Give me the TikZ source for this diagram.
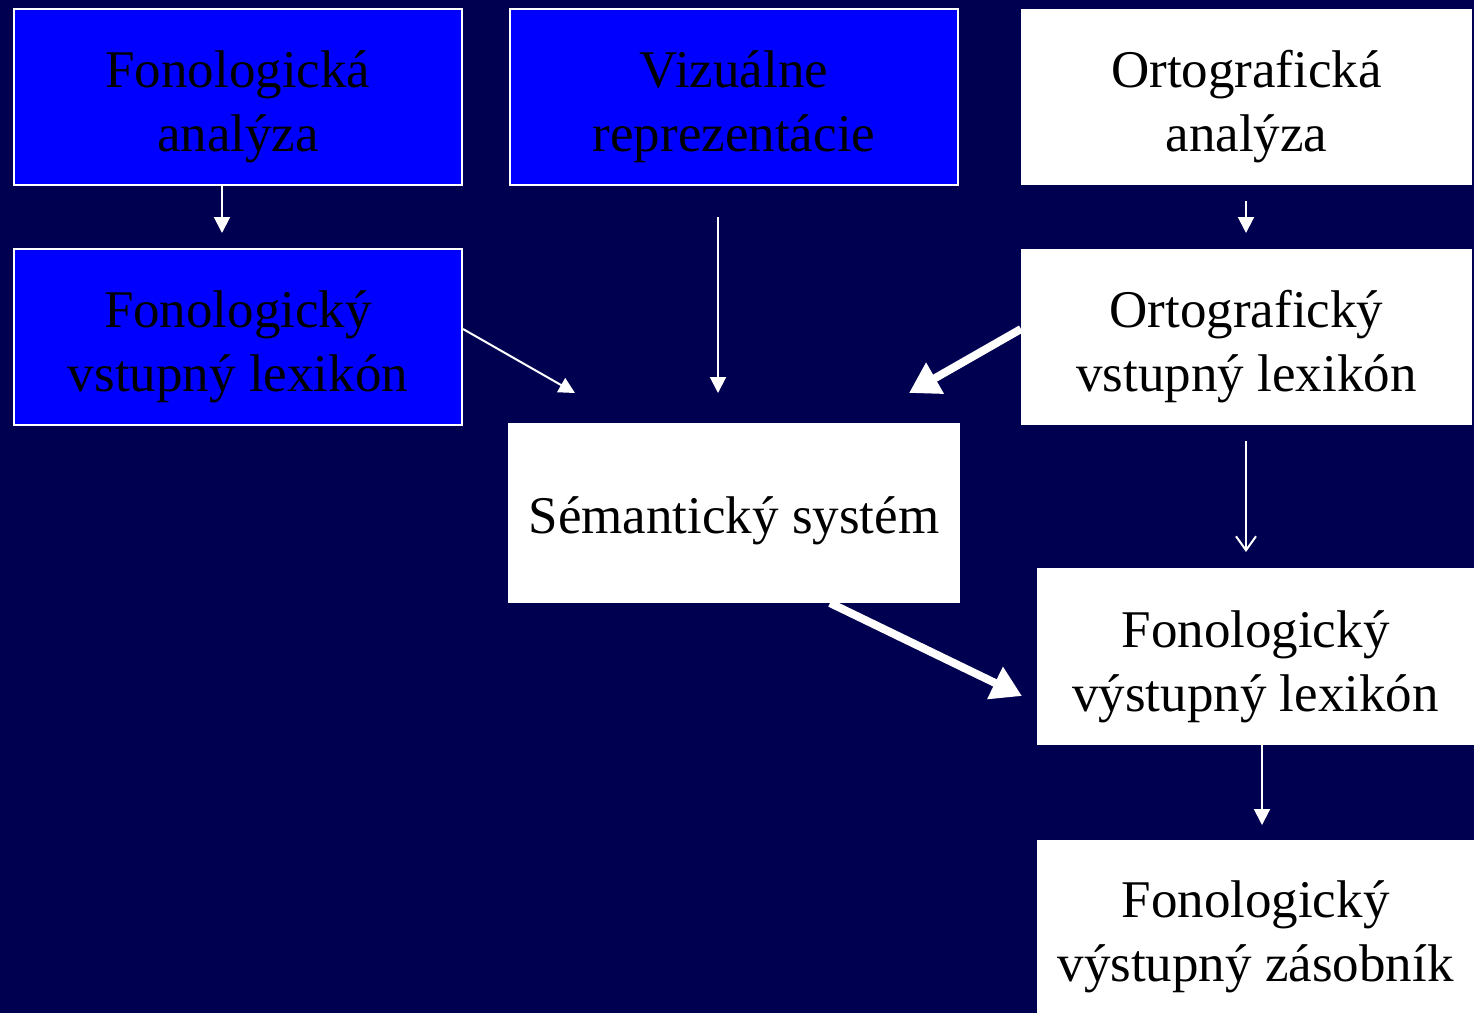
\documentclass[tikz,border=0pt]{standalone}
\usepackage{fontspec}
\setmainfont{Liberation Serif}
\usetikzlibrary{arrows.meta}
\definecolor{bgnavy}{RGB}{0,0,80}
\definecolor{boxblue}{RGB}{0,0,255}
\newcommand{\topstrut}{\rule{0pt}{57pt}}
\tikzset{
  box/.style={rectangle, inner sep=0pt, align=center, text=black,
    font=\fontsize{53}{64}\selectfont},
  bluebox/.style={box, fill=boxblue, draw=white, line width=2pt},
  whitebox/.style={box, fill=white},
  thinarrow/.style={draw=white, line width=2pt, -{Triangle[length=16pt,width=16pt]}},
  thickarrow/.style={draw=white, line width=8pt, -{Triangle[length=30pt,width=34pt]}},
  openarrow/.style={draw=white, line width=2pt, -{Straight Barb[length=14pt,width=20pt]}}
}
\begin{document}
\begin{tikzpicture}[x=1pt,y=-1pt]
\fill[bgnavy] (0,0) rectangle (1474,1013);
\useasboundingbox (0,0) rectangle (1474,1013);

\node[bluebox, minimum width=448pt, minimum height=176pt] (fa) at (238,97) {\topstrut Fonologická\\analýza};
\node[bluebox, minimum width=448pt, minimum height=176pt] (vr) at (734,97) {\topstrut Vizuálne\\reprezentácie};
\node[whitebox, minimum width=451pt, minimum height=176pt] (oa) at (1246.5,97) {\topstrut Ortografická\\analýza};
\node[bluebox, minimum width=448pt, minimum height=176pt] (fvl) at (238,337) {\topstrut Fonologický\\vstupný lexikón};
\node[whitebox, minimum width=451pt, minimum height=176pt] (ovl) at (1246.5,337) {\topstrut Ortografický\\vstupný lexikón};
\node[whitebox, minimum width=452pt, minimum height=180pt] (ss) at (734,513) {\rule{0pt}{52pt}Sémantický systém};
\node[whitebox, minimum width=437pt, minimum height=177pt] (fxl) at (1255.5,656.5) {\topstrut Fonologický\\výstupný lexikón};
\node[whitebox, minimum width=437pt, minimum height=173pt] (fxz) at (1255.5,926.5) {\rule{0pt}{58pt}Fonologický\\výstupný zásobník};

\coordinate (a1s) at (222,185);
\coordinate (a1e) at (222,233);
\coordinate (a2s) at (718,217);
\coordinate (a2e) at (718,393);
\coordinate (a3s) at (1246,201);
\coordinate (a3e) at (1246,233);
\coordinate (a4s) at (463,329);
\coordinate (a4e) at (575,393);
\coordinate (a5s) at (1021,329);
\coordinate (a5e) at (909,393);
\coordinate (a6s) at (1246,441);
\coordinate (a6e) at (1246,552);
\coordinate (a7s) at (830,603);
\coordinate (a7e) at (1022,696);
\coordinate (a8s) at (1262,745);
\coordinate (a8e) at (1262,825);

\draw[thinarrow] (a1s) -- (a1e);
\draw[thinarrow] (a2s) -- (a2e);
\draw[thinarrow] (a3s) -- (a3e);
\draw[thinarrow] (a4s) -- (a4e);
\draw[thickarrow] (a5s) -- (a5e);
\draw[openarrow] (a6s) -- (a6e);
\draw[thickarrow] (a7s) -- (a7e);
\draw[thinarrow] (a8s) -- (a8e);
\end{tikzpicture}
\end{document}
